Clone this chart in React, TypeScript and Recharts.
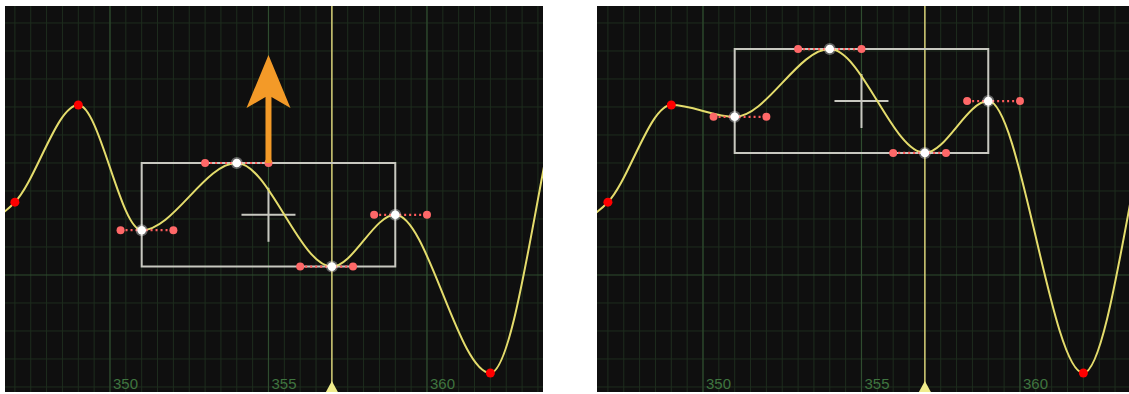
import React from 'react';
import { LineChart, Line, XAxis, YAxis, ReferenceLine, ReferenceDot, ReferenceArea } from 'recharts';

// Keyframes (frame numbers) and their values, before and after moving the selection up
const KEY_FRAMES = [345, 347, 349, 351, 354, 357, 359, 362, 365, 367];
const VALUES_BEFORE = [1.4, 2.6, 6.07, 1.6, 4.0, 0.3, 2.15, -3.5, 8.9, 6.0];
const VALUES_AFTER = [1.4, 2.6, 6.07, 5.65, 8.07, 4.36, 6.21, -3.5, 8.9, 6.0];
const SELECTED = [false, false, false, true, true, true, true, false, false, false];

const MAJOR_FRAMES = [350, 355, 360];
const MAJOR_LABELS = ['350', '355', '360'];
const PLAYHEAD_FRAME = 357;
const Y_LINES = [-4, -3, -2, -1, 1, 2, 3, 4, 5, 6, 7, 8, 9];
const Y_ZERO = 0;

const Y_MIN = -4.179;
const Y_MAX = 9.607;
const PANEL_H = 386;

const minorFrames: number[] = [];
for (let f = 346; f <= 364; f += 0.5) minorFrames.push(f);

const BG = '#0f0f0f';
const MINOR = '#1e2d1e';
const MAJOR = '#2f4c2f';
const CURVE = '#e4dc6c';
const LABEL = '#3f743f';

function Panel({ values, width, xMin, xMax, showArrow }: { values: number[]; width: number; xMin: number; xMax: number; showArrow: boolean }) {
  const data = KEY_FRAMES.map((f, i) => ({ frame: f, value: values[i] }));
  const selIdx = SELECTED.map((s, i) => (s ? i : -1)).filter((i) => i >= 0);
  const selFrames = selIdx.map((i) => KEY_FRAMES[i]);
  const selVals = selIdx.map((i) => values[i]);
  const bx1 = Math.min(...selFrames);
  const bx2 = Math.max(...selFrames);
  const by1 = Math.min(...selVals);
  const by2 = Math.max(...selVals);
  const cx = (bx1 + bx2) / 2;
  const cy = (by1 + by2) / 2;
  const handles = selIdx.map((i) => ({
    f: KEY_FRAMES[i],
    y: values[i],
    l: KEY_FRAMES[i] - (KEY_FRAMES[i] - KEY_FRAMES[i - 1]) / 3,
    r: KEY_FRAMES[i] + (KEY_FRAMES[i + 1] - KEY_FRAMES[i]) / 3,
  }));

  return (
    <LineChart width={width} height={PANEL_H} data={data} margin={{ top: 0, right: 0, bottom: 0, left: 0 }} style={{ background: BG }}>
      <XAxis dataKey="frame" type="number" domain={[xMin, xMax]} allowDataOverflow hide />
      <YAxis type="number" domain={[Y_MIN, Y_MAX]} allowDataOverflow hide />
      {minorFrames.map((f) => (
        <ReferenceLine key={'mx' + f} x={f} stroke={MINOR} strokeWidth={1} zIndex={-100} />
      ))}
      {Y_LINES.map((v) => (
        <ReferenceLine key={'my' + v} y={v} stroke={MINOR} strokeWidth={1} zIndex={-100} />
      ))}
      <ReferenceLine y={Y_ZERO} stroke={MAJOR} strokeWidth={1.2} zIndex={-90} />
      {MAJOR_FRAMES.map((f, i) => (
        <ReferenceLine
          key={'Mx' + f}
          x={f}
          stroke={MAJOR}
          strokeWidth={1.2}
          zIndex={-90}
          label={(p: any) => (
            <text x={p.viewBox.x + 3} y={p.viewBox.y + p.viewBox.height - 3} fill={LABEL} fontSize={15} fontFamily="Liberation Sans, Arial, sans-serif">
              {MAJOR_LABELS[i]}
            </text>
          )}
        />
      ))}
      <ReferenceLine x={PLAYHEAD_FRAME} stroke="#d8d078" strokeWidth={1.5} zIndex={-80} />
      <ReferenceDot
        x={PLAYHEAD_FRAME}
        y={Y_MIN}
        ifOverflow="visible"
        zIndex={-80}
        shape={(p: any) => <path d={`M${p.cx - 6},${p.cy} L${p.cx + 6},${p.cy} L${p.cx},${p.cy - 11} Z`} fill="#f0ec8c" />}
      />
      <ReferenceArea x1={bx1} x2={bx2} y1={by1} y2={by2} fill="none" stroke="#c8c8c0" strokeWidth={2} zIndex={-50} />
      <ReferenceDot
        x={cx}
        y={cy}
        ifOverflow="visible"
        zIndex={-50}
        shape={(p: any) => (
          <g stroke="#c8c8c0" strokeWidth={2}>
            <line x1={p.cx - 27} y1={p.cy} x2={p.cx + 27} y2={p.cy} />
            <line x1={p.cx} y1={p.cy - 27} x2={p.cx} y2={p.cy + 27} />
          </g>
        )}
      />
      <Line type="monotone" dataKey="value" stroke={CURVE} strokeWidth={2} dot={false} activeDot={false} isAnimationActive={false} />
      {handles.map((h) => (
        <ReferenceLine
          key={'h' + h.f}
          segment={[{ x: h.l, y: h.y }, { x: h.r, y: h.y }]}
          stroke="#ff5c5c"
          strokeWidth={2.2}
          strokeDasharray="2 3"
          zIndex={700}
        />
      ))}
      {handles.map((h) => (
        <ReferenceDot key={'hl' + h.f} x={h.l} y={h.y} r={4} fill="#ff6868" stroke="none" zIndex={710} />
      ))}
      {handles.map((h) => (
        <ReferenceDot key={'hr' + h.f} x={h.r} y={h.y} r={4} fill="#ff6868" stroke="none" zIndex={710} />
      ))}
      {KEY_FRAMES.map((f, i) => (
        <ReferenceDot
          key={'k' + f}
          x={f}
          y={values[i]}
          zIndex={720}
          shape={(p: any) =>
            SELECTED[i] ? (
              <g>
                <circle cx={p.cx} cy={p.cy} r={6} fill="#ffffff" opacity={0.35} />
                <circle cx={p.cx} cy={p.cy} r={4.3} fill="#ffffff" />
              </g>
            ) : (
              <circle cx={p.cx} cy={p.cy} r={4.5} fill="#ff0000" />
            )
          }
        />
      ))}
      {showArrow && (
        <ReferenceDot
          x={cx}
          y={by2}
          ifOverflow="visible"
          zIndex={800}
          shape={(p: any) => (
            <path
              d={`M${p.cx - 3},${p.cy} L${p.cx - 3},${p.cy - 66} L${p.cx - 22},${p.cy - 55} L${p.cx},${p.cy - 108} L${p.cx + 22},${p.cy - 55} L${p.cx + 3},${p.cy - 66} L${p.cx + 3},${p.cy} Z`}
              fill="#f39a28"
            />
          )}
        />
      )}
    </LineChart>
  );
}

export default function App() {
  return (
    <div style={{ position: 'absolute', left: 0, top: 0, width: 1129, height: 394, background: '#ffffff', overflow: 'hidden' }}>
      <div style={{ position: 'absolute', left: 5, top: 6, width: 538, height: PANEL_H }}>
        <Panel values={VALUES_BEFORE} width={538} xMin={346.688} xMax={363.66} showArrow={true} />
      </div>
      <div style={{ position: 'absolute', left: 597, top: 6, width: 532, height: PANEL_H }}>
        <Panel values={VALUES_AFTER} width={532} xMin={346.656} xMax={363.44} showArrow={false} />
      </div>
    </div>
  );
}
